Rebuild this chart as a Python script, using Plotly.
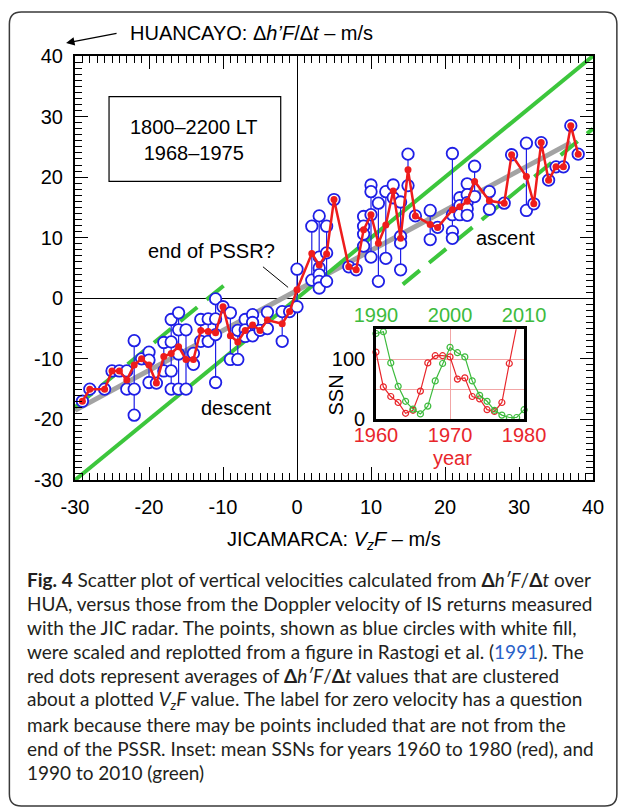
import plotly.graph_objects as go

W, H = 627, 808
L, R, T, B = 75, 596, 56, 480  # main plot area in pixels


def fx(px):
    return (px - L) / (R - L)


def fy(py):
    return (B - py) / (B - T)


# ---------------- data ----------------
blue_x = [-29, -28, -26, -25, -24, -23, -23, -22, -22, -22, -21, -20, -20, -20, -19,
          -18, -18, -17, -17, -17, -17, -16, -16, -16, -16, -15, -15, -14, -14,
          -13, -13, -12, -12, -11, -11, -11, -11, -10, -9, -9, -8, -8,
          -7, -7, -7, -6, -6, -6, -5, -4, -4, -2, -2, -1, 0, 0,
          2, 2, 3, 3, 3, 3, 3, 3, 4, 4, 4, 5, 7, 8,
          9, 9, 9, 9, 10, 10, 10, 10, 11, 11, 12, 12, 13, 13,
          14, 14, 14, 14, 15, 15, 16, 18, 18, 19,
          21, 21, 21, 21, 22, 22, 22, 23, 23, 23, 23, 23, 24, 24,
          26, 26, 28, 29, 31, 31, 32, 33, 34, 35, 36, 37, 38]
blue_y = [-17, -15, -15, -12, -12, -12, -15, -7, -15, -19.3, -10, -8.9, -10.2, -13.9, -14,
          -7.3, -12, -3.5, -7.2, -12, -15, -2.4, -5.2, -9.2, -15, -5.2, -15, -9.1, -10.9,
          -3.5, -7.1, -3.4, -7.1, -0.1, -3.4, -6.0, -13.9, -1.4, -2.4, -10.1, -5.3, -10.1,
          -3.5, -5.2, -6.3, -2.7, -4.0, -6.2, -5.3, -2.3, -5.0, -2.2, -7.1, -2.2, 4.8, -1.4,
          11.9, 3.0, 13.6, 6.8, 5.0, 3.9, 2.8, 1.7, 11.9, 7.5, 2.8, 16.3, 5.2, 4.7,
          13.5, 11.9, 10.6, 8.6, 18.7, 17.6, 13.8, 6.8, 15.7, 2.8, 17.6, 6.6, 18.7, 16.6,
          15.9, 10.2, 9.1, 4.7, 23.8, 18.6, 13.6, 14.5, 9.7, 11.7,
          23.9, 13.8, 11.0, 9.9, 16.6, 15.3, 13.8, 18.9, 17.1, 15.8, 14.8, 13.7, 21.8, 16.8,
          17.6, 14.7, 15.7, 23.7, 25.6, 14.5, 15.6, 25.7, 19.5, 21.7, 21.7, 28.5, 23.8]

red_x = [-29, -28, -26, -25, -24, -23, -22, -21, -20, -19, -18, -17, -16, -15, -14,
         -13, -12, -11, -10, -9, -8, -7, -6, -5, -4, -2, -1, 0,
         2, 3, 4, 5, 7, 8, 9, 10, 11, 12, 13, 14, 15, 16, 18, 19,
         21, 22, 23, 24, 26, 28, 29, 31, 32, 33, 34, 35, 36, 37, 38]
red_y = [-17, -15, -15, -12, -12, -13.5, -11, -10, -11, -14, -9.6, -9.1, -8.0, -10.1, -10.1,
         -5.3, -5.5, -5.7, -1.4, -6.2, -7.2, -5.3, -4.4, -5.3, -3.6, -4.2, -2.2, 1.4,
         7.4, 5.5, 7.3, 16.3, 5.2, 4.7, 11.3, 13.8, 9.1, 12.1, 17.7, 9.9, 21.2, 13.6, 12.2, 11.7,
         14.6, 15.1, 16.0, 19.3, 16.1, 15.7, 23.7, 20.1, 15.6, 25.7, 19.5, 21.7, 21.7, 28.5, 23.8]

fit_x = [-30, 37]
fit_y = [-18.5, 25.7]
unity_x = [-30, 40]
unity_y = [-30, 40]
desc_x = [-30, -9.5]
desc_y = [-18, 2.5]
asc_x = [14.3, 40]
asc_y = [2.3, 28]

years_red = list(range(1960, 1981))
ssn_red = [112, 54, 38, 28, 10, 15, 47, 94, 106, 106, 104, 67, 69, 38, 34, 16, 13, 28, 93, 155, 155]
years_green = list(range(1990, 2011))
ssn_green = [143, 146, 94, 55, 30, 17, 9, 22, 64, 93, 120, 111, 104, 64, 40, 30, 15, 7, 3, 3, 16]

main_ticks = [-30, -20, -10, 0, 10, 20, 30, 40]
main_tick_text = ["-30", "-20", "-10", "0", "10", "20", "30", "40"]
red_year_ticks = [1960, 1970, 1980]
green_year_ticks = [1990, 2000, 2010]
ssn_ticks = [0, 50, 100]
ssn_tick_text = ["0", "", "100"]

caption_lines = [
    "<b>Fig. 4</b> Scatter plot of vertical velocities calculated from <b>Δ</b><i>h′F</i>/<b>Δ</b><i>t</i> over",
    "HUA, versus those from the Doppler velocity of IS returns measured",
    "with the JIC radar. The points, shown as blue circles with white fill,",
    "were scaled and replotted from a figure in Rastogi et al. (<span style='color:#2a62c9'>1991</span>). The",
    "red dots represent averages of <b>Δ</b><i>h′F</i>/<b>Δ</b><i>t</i> values that are clustered",
    "about a plotted <i>V<sub>z</sub>F</i> value. The label for zero velocity has a question",
    "mark because there may be points included that are not from the",
    "end of the PSSR. Inset: mean SSNs for years 1960 to 1980 (red), and",
    "1990 to 2010 (green)",
]

# ---------------- styles ----------------
ARIAL = "Liberation Sans, Arial, sans-serif"
BLUE = "#1f1fe6"
RED = "#ee1c1c"
GREEN = "#3cc63c"
GRAY = "#a3a3a3"

fig = go.Figure()

# reference lines
fig.add_trace(go.Scatter(x=fit_x, y=fit_y, mode="lines",
                         line=dict(color=GRAY, width=5), hoverinfo="skip"))
fig.add_trace(go.Scatter(x=unity_x, y=unity_y, mode="lines",
                         line=dict(color=GREEN, width=4), hoverinfo="skip"))
fig.add_trace(go.Scatter(x=desc_x, y=desc_y, mode="lines",
                         line=dict(color=GREEN, width=4, dash="22px,12px"), hoverinfo="skip"))
fig.add_trace(go.Scatter(x=asc_x, y=asc_y, mode="lines",
                         line=dict(color=GREEN, width=4, dash="22px,12px"), hoverinfo="skip"))

# vertical connectors between circles of the same x
groups = {}
for xv, yv in zip(blue_x, blue_y):
    groups.setdefault(xv, []).append(yv)
cx, cy = [], []
for xv, ys in groups.items():
    if len(ys) > 1:
        cx += [xv, xv, None]
        cy += [min(ys), max(ys), None]
fig.add_trace(go.Scatter(x=cx, y=cy, mode="lines",
                         line=dict(color=BLUE, width=1.2), hoverinfo="skip"))

fig.add_trace(go.Scatter(x=blue_x, y=blue_y, mode="markers",
                         marker=dict(symbol="circle", size=11.5, color="white",
                                     line=dict(color=BLUE, width=1.8))))
fig.add_trace(go.Scatter(x=red_x, y=red_y, mode="lines+markers",
                         line=dict(color=RED, width=2.5),
                         marker=dict(size=7, color=RED)))

# inset
fig.add_trace(go.Scatter(x=years_red, y=ssn_red, xaxis="x2", yaxis="y2",
                         mode="lines+markers", cliponaxis=False,
                         line=dict(color="#e8262b", width=1.2),
                         marker=dict(symbol="circle-open", size=6, color="#e8262b",
                                     line=dict(width=1.2))))
fig.add_trace(go.Scatter(x=years_green, y=ssn_green, xaxis="x3", yaxis="y2",
                         mode="lines+markers", cliponaxis=False,
                         line=dict(color="#3dbb3d", width=1.2),
                         marker=dict(symbol="circle-open", size=6, color="#3dbb3d",
                                     line=dict(width=1.2))))

main_axis = dict(
    range=[-30, 40], tickvals=main_ticks, ticktext=main_tick_text,
    ticks="inside", ticklen=13, tickwidth=1.3, tickcolor="black",
    minor=dict(ticks="inside", ticklen=7, dtick=1, tickwidth=1, tickcolor="black", showgrid=False),
    showline=True, linewidth=2, linecolor="black", mirror="allticks",
    showgrid=False, zeroline=True, zerolinecolor="black", zerolinewidth=1,
    tickfont=dict(family=ARIAL, size=20, color="black"),
)

ix0, ix1 = fx(377.7), fx(526.7)
iy0, iy1 = fy(419.3), fy(329.3)

fig.update_layout(
    width=W, height=H,
    margin=dict(l=L, r=W - R, t=T, b=H - B, pad=0),
    paper_bgcolor="white", plot_bgcolor="white",
    showlegend=False,
    xaxis=dict(main_axis, domain=[0, 1], anchor="y", ticklabelstandoff=8),
    yaxis=dict(main_axis, domain=[0, 1], anchor="x", ticklabelstandoff=6),
    xaxis2=dict(domain=[ix0, ix1], anchor="y2", range=[1960, 1980],
                tickvals=red_year_ticks, ticks="", showgrid=True,
                gridcolor="#f2a6a6", gridwidth=1, zeroline=False,
                showline=True, mirror=True, linecolor="black", linewidth=2.5,
                tickfont=dict(family=ARIAL, size=20, color="#e8262b"),
                ticklabelstandoff=-4),
    xaxis3=dict(overlaying="x2", anchor="y2", side="top", range=[1990, 2010],
                tickvals=green_year_ticks, ticks="", showgrid=False, zeroline=False,
                showline=False,
                tickfont=dict(family=ARIAL, size=20, color="#3dbb3d"),
                ticklabelstandoff=2),
    yaxis2=dict(domain=[iy0, iy1], anchor="x2", range=[0, 150],
                tickvals=ssn_ticks, ticktext=ssn_tick_text, ticks="",
                showgrid=True, gridcolor="#f2a6a6", gridwidth=1, zeroline=False,
                showline=True, mirror=True, linecolor="black", linewidth=2.5,
                tickfont=dict(family=ARIAL, size=20, color="black"),
                ticklabelstandoff=4),
)

shapes = []
# text box
shapes.append(dict(type="rect", xref="x", yref="y", x0=-25.4, x1=-2.2, y0=19.3, y1=33.3,
                   line=dict(color="black", width=1.2), fillcolor="rgba(0,0,0,0)", layer="above"))
# leader line for "end of PSSR?"
shapes.append(dict(type="line", xref="x", yref="y", x0=-4.6, y0=5.2, x1=-1.2, y1=1.8,
                   line=dict(color="black", width=1)))
# outer rounded frame
x0p, x1p, y0p, y1p, rr = 9, 620, 12, 806, 12
pts = [
    ("M", (x0p + rr, y0p)), ("L", (x1p - rr, y0p)), ("Q", (x1p, y0p), (x1p, y0p + rr)),
    ("L", (x1p, y1p - rr)), ("Q", (x1p, y1p), (x1p - rr, y1p)), ("L", (x0p + rr, y1p)),
    ("Q", (x0p, y1p), (x0p, y1p - rr)), ("L", (x0p, y0p + rr)), ("Q", (x0p, y0p), (x0p + rr, y0p)),
]
path = ""
for item in pts:
    cmd = item[0]
    coords = " ".join(f"{fx(p[0]):.5f},{fy(p[1]):.5f}" for p in item[1:])
    path += f"{cmd} {coords} "
path += "Z"
shapes.append(dict(type="path", xref="paper", yref="paper", path=path,
                   line=dict(color="#3a3a3a", width=1.5)))
fig.update_layout(shapes=shapes)

ann = []
tf = dict(family=ARIAL, size=20, color="black")
C = dict(xanchor="center", yanchor="middle", showarrow=False)
ann.append(dict(C, xref="x", yref="y", x=-13.9, y=26.1, text="1800–2200 LT<br>1968–1975",
                font=tf, align="center"))
ann.append(dict(C, xref="x", yref="y", x=-11.6, y=7.8, text="end of PSSR?", font=tf))
ann.append(dict(C, xref="x", yref="y", x=-8.2, y=-18.1, text="descent", font=tf))
ann.append(dict(C, xref="x", yref="y", x=28.2, y=10.0, text="ascent", font=tf))
# inset labels
ann.append(dict(C, xref="paper", yref="paper", x=fx(338), y=fy(395), text="SSN", textangle=-90,
                font=tf))
ann.append(dict(C, xref="paper", yref="paper", x=fx(455), y=fy(458), text="year",
                font=dict(family=ARIAL, size=20, color="#e8262b")))
# y title with arrow
ann.append(dict(xref="paper", yref="paper", x=fx(128), y=fy(33), xanchor="left", yanchor="middle",
                text="HUANCAYO: Δ<i>h’F</i>/Δ<i>t</i> – m/s", showarrow=False, font=tf))
ann.append(dict(xref="paper", yref="paper", x=fx(66), y=fy(43), text="", showarrow=True,
                ax=52, ay=-10, arrowhead=2, arrowsize=1.3, arrowwidth=1.3, arrowcolor="black",
                standoff=0))
# x title
ann.append(dict(xref="paper", yref="paper", x=0.5, y=fy(538), xanchor="center", yanchor="top",
                yshift=12, text="JICAMARCA: <i>V<sub>z</sub>F</i> – m/s", showarrow=False, font=tf))
# caption
for i, line in enumerate(caption_lines):
    ann.append(dict(xref="paper", yref="paper", x=fx(25), y=fy(579 + 24.2 * i),
                    xanchor="left", yanchor="middle", align="left", text=line, showarrow=False,
                    font=dict(family="Lato, sans-serif", size=19, color="#231f20")))
fig.update_layout(annotations=ann)

fig.write_html("out.html")
